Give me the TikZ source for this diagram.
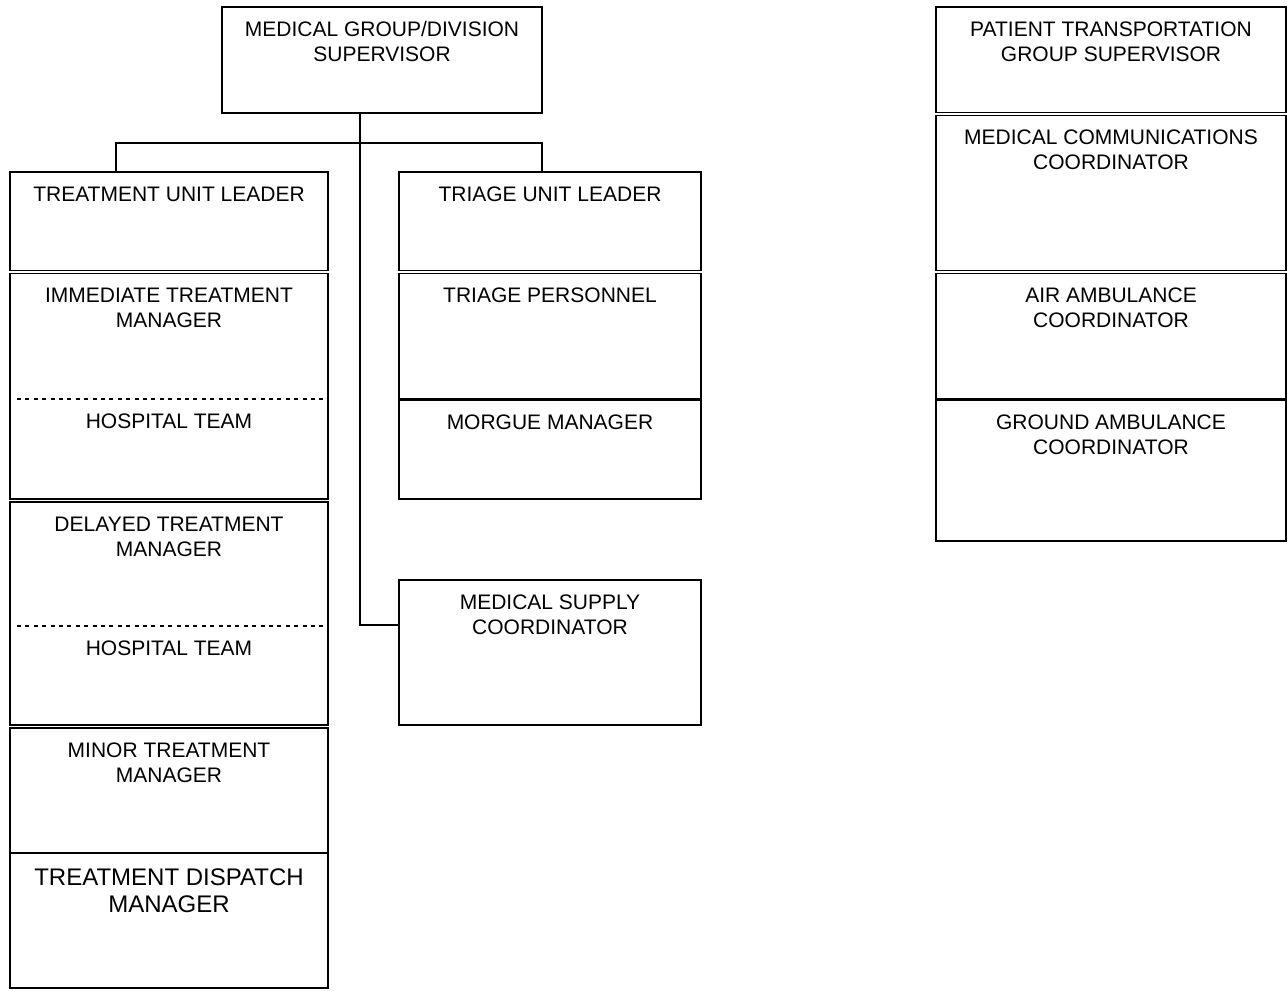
\documentclass[tikz,border=0pt]{standalone}
\usepackage{fontspec}
\setmainfont{Liberation Sans}
\usetikzlibrary{fit,positioning}

\tikzset{
  unit/.style={draw, line width=0.65pt, inner sep=0pt},
  unittext/.style={anchor=north, align=center, inner sep=0pt, yshift=-7.4pt,
    font=\fontsize{10.5}{12.5}\selectfont},
  bigtext/.style={anchor=north, align=center, inner sep=0pt, yshift=-7.5pt,
    font=\fontsize{12}{13.5}\selectfont},
  link/.style={line width=0.65pt},
  split/.style={line width=0.7pt, dash pattern=on 2pt off 2.2pt}
}

\begin{document}
\begin{tikzpicture}[x=0.5pt, y=-0.5pt]
\useasboundingbox (0,0) rectangle (1288,990);

% medical group
\node[unit, fit={(222,7) (542,113)},
  label={[unittext]north:MEDICAL GROUP/DIVISION\\SUPERVISOR}] (sup) {};

% treatment unit
\node[unit, fit={(10,172) (328,270.5)},
  label={[unittext]north:TREATMENT UNIT LEADER}] (tul) {};
\node[unit, fit={(10,273.5) (328,499)},
  label={[unittext]north:IMMEDIATE TREATMENT\\MANAGER}] (itm) {};
\node[unit, fit={(10,502) (328,725)},
  label={[unittext]north:DELAYED TREATMENT\\MANAGER}] (dtm) {};
\node[unit, fit={(10,728) (328,852.5)},
  label={[unittext]north:MINOR TREATMENT\\MANAGER}] (mtm) {};
\node[unit, fit={(10,853.5) (328,988)},
  label={[bigtext]north:TREATMENT DISPATCH\\MANAGER}] (tdm) {};

% hospital teams
\coordinate (ih) at (17,399);
\coordinate (dh) at (17,626);
\draw[split] (ih) -- (ih -| itm.east);
\draw[split] (dh) -- (dh -| dtm.east);
\node[unittext] (iht) at (ih -| itm.north) {HOSPITAL TEAM};
\node[unittext] (dht) at (dh -| dtm.north) {HOSPITAL TEAM};

% triage unit
\node[unit, fit={(399,172) (701,270.5)},
  label={[unittext]north:TRIAGE UNIT LEADER}] (trl) {};
\node[unit, fit={(399,273.5) (701,399)},
  label={[unittext]north:TRIAGE PERSONNEL}] (tp) {};
\node[unit, fit={(399,400) (701,499)},
  label={[unittext]north:MORGUE MANAGER}] (mm) {};
\node[unit, fit={(399,580) (701,725)},
  label={[unittext]north:MEDICAL SUPPLY\\COORDINATOR}] (msc) {};

% patient transportation
\node[unit, fit={(936,7) (1286,112.5)},
  label={[unittext]north:PATIENT TRANSPORTATION\\GROUP SUPERVISOR}] (pts) {};
\node[unit, fit={(936,115.5) (1286,270.5)},
  label={[unittext]north:MEDICAL COMMUNICATIONS\\COORDINATOR}] (mcc) {};
\node[unit, fit={(936,273.5) (1286,399)},
  label={[unittext]north:AIR AMBULANCE\\COORDINATOR}] (aac) {};
\node[unit, fit={(936,400) (1286,541)},
  label={[unittext]north:GROUND AMBULANCE\\COORDINATOR}] (gac) {};

% connectors
\coordinate (bl) at (116,143);
\coordinate (br) at (542,143);
\coordinate (j) at (360,625);
\draw[link] (bl |- tul.north) -- (bl) -- (br) -- (br |- trl.north);
\draw[link] (sup.south -| j) -- (j) -- (j -| msc.west);
\end{tikzpicture}
\end{document}
